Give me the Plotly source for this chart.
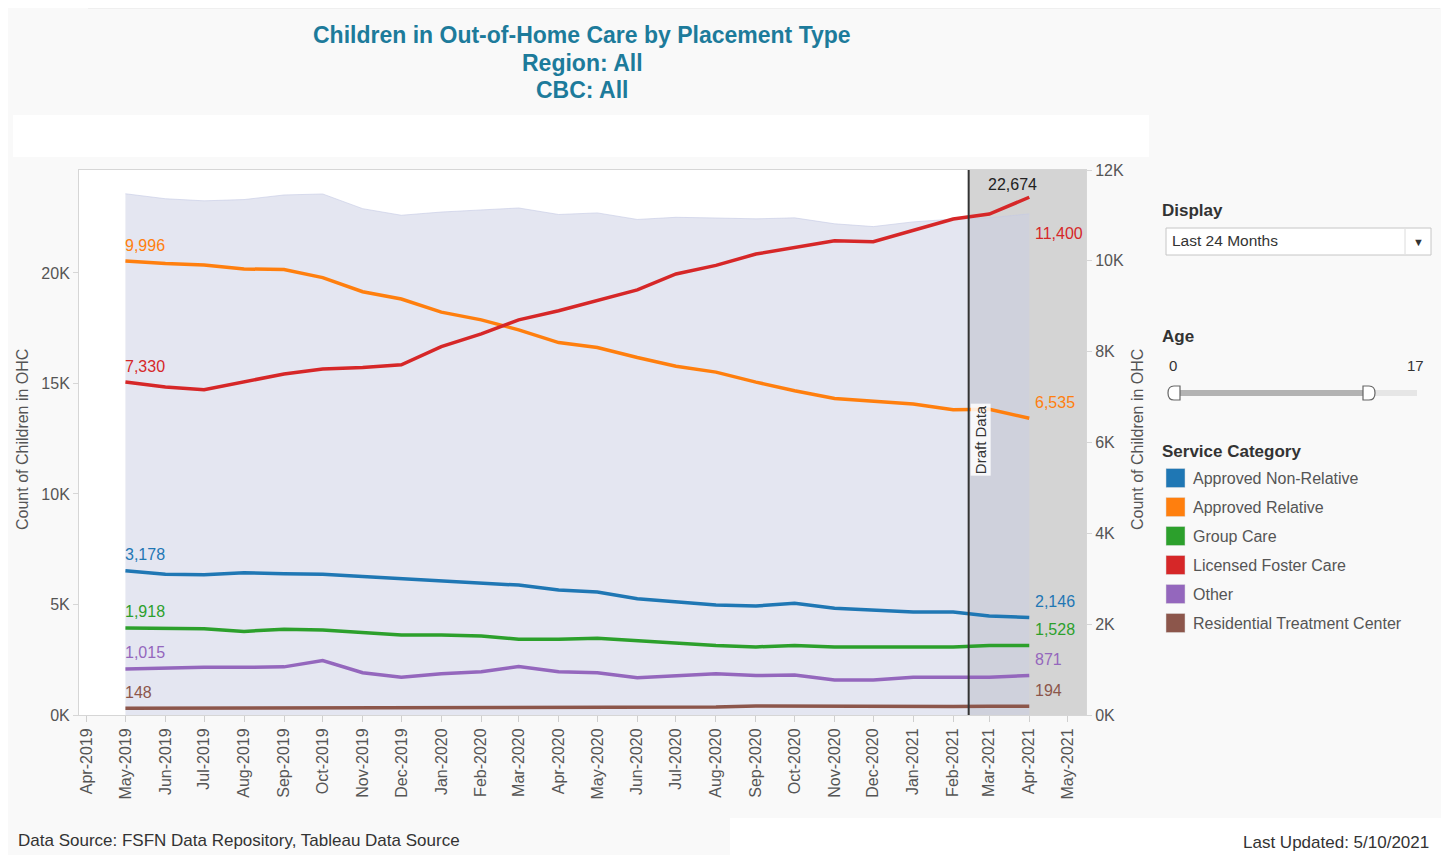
import plotly.graph_objects as go

# Monthly point-in-time counts, May 2019 - Apr 2021
months = [
    "2019-05-01", "2019-06-01", "2019-07-01", "2019-08-01", "2019-09-01", "2019-10-01",
    "2019-11-01", "2019-12-01", "2020-01-01", "2020-02-01", "2020-03-01", "2020-04-01",
    "2020-05-01", "2020-06-01", "2020-07-01", "2020-08-01", "2020-09-01", "2020-10-01",
    "2020-11-01", "2020-12-01", "2021-01-01", "2021-02-01", "2021-03-01", "2021-04-01",
]

approved_non_relative = [3178, 3100, 3090, 3130, 3110, 3100, 3050, 3000, 2950, 2910, 2860, 2750,
                         2710, 2560, 2490, 2420, 2400, 2460, 2350, 2310, 2270, 2270, 2180, 2146]
approved_relative = [9996, 9940, 9910, 9820, 9810, 9630, 9320, 9160, 8870, 8700, 8480, 8200,
                     8090, 7870, 7680, 7550, 7330, 7140, 6970, 6920, 6850, 6720, 6730, 6535]
group_care = [1918, 1910, 1900, 1840, 1890, 1870, 1810, 1760, 1760, 1740, 1670, 1670,
              1690, 1630, 1590, 1530, 1500, 1530, 1500, 1500, 1500, 1500, 1530, 1528]
licensed_foster_care = [7330, 7220, 7160, 7330, 7510, 7620, 7650, 7710, 8110, 8390, 8700, 8900,
                        9120, 9360, 9710, 9900, 10150, 10290, 10440, 10420, 10680, 10920, 11030, 11400]
other = [1015, 1040, 1050, 1050, 1060, 1200, 930, 830, 910, 950, 1070, 955,
         930, 820, 870, 910, 870, 880, 770, 770, 830, 840, 830, 871]
residential_treatment = [148, 150, 155, 152, 150, 155, 150, 152, 158, 160, 162, 172,
                         178, 182, 180, 178, 200, 195, 195, 180, 182, 188, 192, 194]

series_names = ["Approved Non-Relative", "Approved Relative", "Group Care",
                "Licensed Foster Care", "Other", "Residential Treatment Center"]
series_values = [approved_non_relative, approved_relative, group_care,
                 licensed_foster_care, other, residential_treatment]
series_colors = ["#1f77b4", "#ff7f0e", "#2ca02c", "#d62728", "#9467bd", "#8c564b"]

left_ticks = [0, 5000, 10000, 15000, 20000]
left_ticktext = ["0K", "5K", "10K", "15K", "20K"]
right_ticks = [0, 2000, 4000, 6000, 8000, 10000, 12000]
right_ticktext = ["0K", "2K", "4K", "6K", "8K", "10K", "12K"]

draft_start = "2021-02-13"
x_range = ["2019-03-26", "2021-05-15"]

# total children = sum of the placement types
total = [sum(v) for v in zip(*series_values)]

# page pixels (the html body adds an 8px margin, so the figure is shifted)
OFF = 8
W, H = 1449 - OFF, 855 - OFF
L, R, T, B = 79, 1086, 170, 715
FONT = "Liberation Sans, Arial, sans-serif"


def px(x):
    return (x - L) / (R - L)


def py(y):
    return (B - y) / (B - T)


fig = go.Figure()

# total as shaded area on the left axis
fig.add_trace(go.Scatter(
    x=months, y=total, mode="lines", fill="tozeroy",
    line=dict(color="rgba(196,201,228,0.6)", width=1),
    fillcolor="rgba(202,206,228,0.51)",
    hoverinfo="skip", showlegend=False, yaxis="y",
))

for name, vals, color in zip(series_names, series_values, series_colors):
    fig.add_trace(go.Scatter(
        x=months, y=vals, mode="lines", name=name,
        line=dict(color=color, width=3.5),
        showlegend=False, yaxis="y2",
    ))

annotations = []

# title
for text, yy in [("Children in Out-of-Home Care by Placement Type", 35),
                 ("Region: All", 63), ("CBC: All", 90)]:
    annotations.append(dict(
        xref="paper", yref="paper", x=px(582), y=py(yy), text="<b>%s</b>" % text,
        showarrow=False, xanchor="center", yanchor="middle",
        font=dict(size=23, color="#1d7b9b", family=FONT),
    ))

# start / end labels
end_shift = {"Licensed Foster Care": -36}
for name, vals, color in zip(series_names, series_values, series_colors):
    annotations.append(dict(
        x=months[0], y=vals[0], xref="x", yref="y2", text=f"{vals[0]:,}",
        showarrow=False, xanchor="left", yanchor="middle", yshift=16, xshift=-2,
        font=dict(size=16, color=color, family=FONT),
    ))
    annotations.append(dict(
        x=months[-1], y=vals[-1], xref="x", yref="y2", text=f"{vals[-1]:,}",
        showarrow=False, xanchor="left", yanchor="middle",
        yshift=end_shift.get(name, 16), xshift=4,
        font=dict(size=16, color=color, family=FONT),
    ))

annotations.append(dict(
    x=months[-1], y=total[-1], xref="x", yref="y", text=f"{total[-1]:,}",
    showarrow=False, xanchor="right", yanchor="middle", yshift=29, xshift=10,
    font=dict(size=16, color="#222222", family=FONT),
))

annotations.append(dict(
    x=draft_start, y=py(440), xref="x", yref="paper", text="Draft Data",
    textangle=-90, showarrow=False, xanchor="left", yanchor="middle", xshift=1,
    bgcolor="rgba(255,255,255,0.85)", borderpad=1,
    font=dict(size=15, color="#333333", family=FONT),
))

# axis titles
for xx in (22, 1137):
    annotations.append(dict(
        xref="paper", yref="paper", x=px(xx), y=py(440), text="Count of Children in OHC",
        textangle=-90, showarrow=False, xanchor="center", yanchor="middle",
        font=dict(size=16, color="#555555", family=FONT),
    ))


# right panel text
def panel_text(text, x, y, size=16, color="#555555", bold=False, anchor="left"):
    annotations.append(dict(
        xref="paper", yref="paper", x=px(x), y=py(y),
        text="<b>%s</b>" % text if bold else text,
        showarrow=False, xanchor=anchor, yanchor="middle",
        font=dict(size=size, color=color, family=FONT),
    ))


panel_text("Display", 1160, 210, size=17, color="#333333", bold=True)
panel_text("Last 24 Months", 1170, 241, size=15.5, color="#333333")
panel_text("▼", 1418, 242, size=11, color="#333333", anchor="center")
panel_text("Age", 1160, 336, size=17, color="#333333", bold=True)
panel_text("0", 1173, 365, size=15, color="#333333", anchor="center")
panel_text("17", 1426, 365, size=15, color="#333333", anchor="right")
panel_text("Service Category", 1160, 452, size=17, color="#333333", bold=True)

swatch_y = [478, 507, 536, 565, 594, 623]
for name, color, yy in zip(series_names, series_colors, swatch_y):
    panel_text(name, 1191, yy, size=16, color="#555555")

panel_text("Data Source: FSFN Data Repository, Tableau Data Source", 16, 840, size=17, color="#333333")
panel_text("Last Updated: 5/10/2021", 1431, 842, size=17, color="#333333", anchor="right")

shapes = []


def prect(x0, y0, x1, y1, fill, line="rgba(0,0,0,0)", lw=0, layer="above"):
    shapes.append(dict(
        type="rect", xref="paper", yref="paper",
        x0=px(x0), x1=px(x1), y0=py(y1), y1=py(y0),
        fillcolor=fill, line=dict(color=line, width=lw), layer=layer,
    ))


# white filter strip above the chart and footer box
prect(13, 115, 1149, 157, "white")
prect(730, 818, 1449, 855, "white")
shapes.append(dict(type="line", xref="paper", yref="paper", x0=px(88), x1=px(1440),
                   y0=py(8), y1=py(8), line=dict(color="#e6e6e6", width=1)))

# draft data band + reference line
shapes.append(dict(type="rect", xref="x", yref="paper", x0=draft_start, x1=x_range[1],
                   y0=0, y1=1, fillcolor="#d4d4d4", line=dict(width=0), layer="below"))
shapes.append(dict(type="line", xref="x", yref="paper", x0=draft_start, x1=draft_start,
                   y0=0, y1=1, line=dict(color="#333333", width=2), layer="above"))

# dropdown
prect(1166, 228, 1431, 255, "white", line="#c6c6c6", lw=1)
shapes.append(dict(type="line", xref="paper", yref="paper", x0=px(1405), x1=px(1405),
                   y0=py(229), y1=py(254), line=dict(color="#dcdcdc", width=1)))

# age slider
prect(1173, 390, 1417, 396, "#e6e6e6")
prect(1173, 390, 1368, 396, "#b3b3b3")


def handle(xc, flip):
    x0, x1 = (xc + 6, xc - 6) if flip else (xc - 6, xc + 6)
    xm = xc
    yt, ym, yb = py(386), py(393), py(400)
    path = "M %f,%f L %f,%f Q %f,%f %f,%f Q %f,%f %f,%f L %f,%f Z" % (
        px(x0), yt, px(xm), yt, px(x1), yt, px(x1), ym, px(x1), yb, px(xm), yb, px(x0), yb)
    shapes.append(dict(type="path", xref="paper", yref="paper", path=path,
                       fillcolor="white", line=dict(color="#666666", width=1.2)))


handle(1174, True)
handle(1369, False)

# legend swatches
for color, yy in zip(series_colors, swatch_y):
    prect(1166, yy - 9.5, 1185, yy + 9.5, color, line="#dddddd", lw=0.5)

fig.update_layout(
    width=W, height=H,
    margin=dict(l=L - OFF, r=1449 - R, t=T - OFF, b=855 - B),
    paper_bgcolor="#f9f9f9",
    plot_bgcolor="white",
    font=dict(family=FONT),
    showlegend=False,
    annotations=annotations,
    shapes=shapes,
    xaxis=dict(
        type="date", range=x_range, tick0="2019-04-01", dtick="M1",
        tickformat="%b-%Y", tickangle=-90,
        tickfont=dict(size=16, color="#555555", family=FONT),
        showgrid=False, zeroline=False, showline=True, linecolor="#d6d6d6",
        mirror=True, ticks="outside", ticklen=6, tickcolor="#cfcfcf",
        automargin=False,
    ),
    yaxis=dict(
        range=[0, 24660], tickvals=left_ticks, ticktext=left_ticktext,
        tickfont=dict(size=16, color="#555555", family=FONT),
        showgrid=False, zeroline=False, showline=True, linecolor="#d6d6d6",
        ticks="outside", ticklen=5, tickcolor="#d6d6d6", automargin=False,
    ),
    yaxis2=dict(
        range=[0, 12000], tickvals=right_ticks, ticktext=right_ticktext,
        overlaying="y", side="right",
        tickfont=dict(size=16, color="#555555", family=FONT),
        showgrid=False, zeroline=False, showline=True, linecolor="#d6d6d6",
        ticks="outside", ticklen=5, tickcolor="#d6d6d6", automargin=False,
    ),
)

fig.write_html("out.html")
